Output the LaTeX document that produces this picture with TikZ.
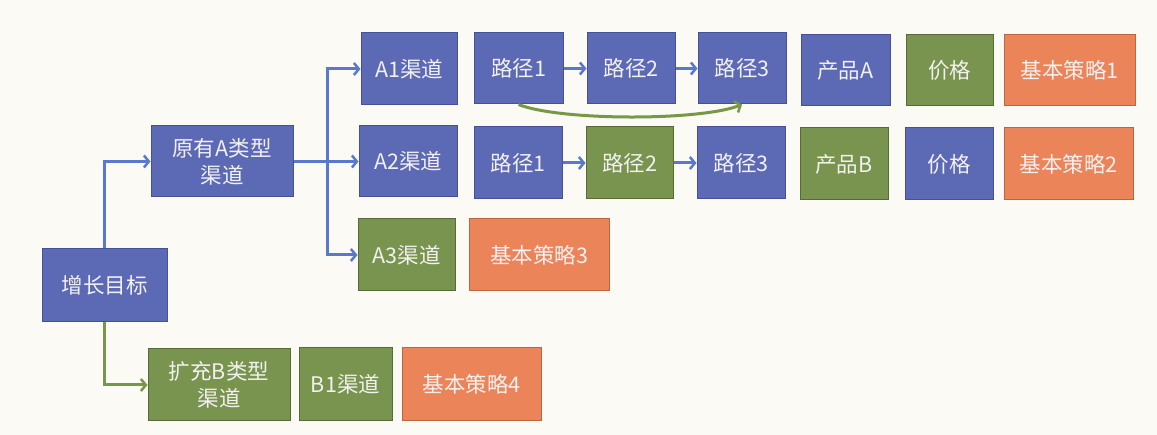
\documentclass[tikz,border=0pt]{standalone}
\usepackage{fontspec}
\setmainfont{Noto Sans CJK SC}
\usetikzlibrary{arrows.meta}
\definecolor{bg}{RGB}{251,250,244}
\definecolor{bluefill}{RGB}{92,106,182}
\definecolor{blueedge}{RGB}{70,80,150}
\definecolor{greenfill}{RGB}{120,148,78}
\definecolor{greenedge}{RGB}{85,108,55}
\definecolor{orangefill}{RGB}{236,132,90}
\definecolor{orangeedge}{RGB}{190,100,65}
\definecolor{bluearrow}{RGB}{90,120,205}
\definecolor{greenarrow}{RGB}{120,152,72}
\definecolor{txt}{RGB}{242,240,240}
\tikzset{
  box/.style={rectangle, line width=1pt, text=txt, inner sep=0pt, align=center,
    font=\fontsize{21.5}{27}\selectfont},
  bbox/.style={box, fill=bluefill, draw=blueedge},
  gbox/.style={box, fill=greenfill, draw=greenedge},
  obox/.style={box, fill=orangefill, draw=orangeedge},
  sz/.style 2 args={minimum width=#1pt, minimum height=#2pt},
  barrow/.style={draw=bluearrow, line width=3pt, -{Straight Barb[length=5pt,width=12pt,line width=2.5pt]}},
  garrow/.style={draw=greenarrow, line width=3pt, -{Straight Barb[length=5pt,width=12pt,line width=2.5pt]}},
}
\begin{document}
\begin{tikzpicture}[x=1pt,y=-1pt]
\fill[bg] (0,0) rectangle (1157,435);
\useasboundingbox (0,0) rectangle (1157,435);

\node[bbox, sz={125}{73}] (goal) at (104.5,285.5) {增长目标};
\node[bbox, sz={142}{71}] (orig) at (222,161.5) {原有A类型\\渠道};
\node[gbox, sz={142}{72}] (expand) at (219,385) {扩充B类型\\渠道};

\node[bbox, sz={96}{72}] (a1) at (409,69) {A1渠道};
\node[bbox, sz={98}{71}] (a2) at (408,161.5) {A2渠道};
\node[gbox, sz={97}{72}] (a3) at (406.5,255) {A3渠道};
\node[obox, sz={140}{72}] (s3) at (539,255) {基本策略3};

\node[gbox, sz={93}{73}] (b1) at (345.5,384.5) {B1渠道};
\node[obox, sz={139}{73}] (s4) at (471.5,384.5) {基本策略4};

\node[bbox, sz={89}{71}] (p11) at (518.5,68.5) {路径1};
\node[bbox, sz={88}{71}] (p12) at (631,68.5) {路径2};
\node[bbox, sz={88}{71}] (p13) at (742,68.5) {路径3};
\node[bbox, sz={89}{71}] (prodA) at (845.5,70.5) {产品A};
\node[gbox, sz={87}{71}] (price1) at (949.5,70.5) {价格};
\node[obox, sz={131}{71}] (s1) at (1069.5,70.5) {基本策略1};

\node[bbox, sz={88}{72}] (p21) at (518,163) {路径1};
\node[gbox, sz={87}{72}] (p22) at (629.5,163) {路径2};
\node[bbox, sz={88}{72}] (p23) at (741,163) {路径3};
\node[gbox, sz={88}{72}] (prodB) at (844,164) {产品B};
\node[bbox, sz={88}{72}] (price2) at (949,164) {价格};
\node[obox, sz={129}{72}] (s2) at (1068.5,164) {基本策略2};

\coordinate (split) at (327,161.5);

\draw[barrow] (goal.north) |- (orig.west);
\draw[garrow] (goal.south) |- (expand.west);
\draw[draw=bluearrow, line width=3pt] (orig.east) -- (split);
\draw[barrow] (split) |- (a1.west);
\draw[barrow] (split) -- (a2.west);
\draw[barrow] (split) |- (a3.west);

\draw[barrow] (p11.east) -- (p12.west);
\draw[barrow] (p12.east) -- (p13.west);
\draw[barrow] (p21.east) -- (p22.west);
\draw[barrow] (p22.east) -- (p23.west);

\draw[garrow] (p11.south) .. controls (560,121) and (700,121) .. (p13.south);
\end{tikzpicture}
\end{document}
